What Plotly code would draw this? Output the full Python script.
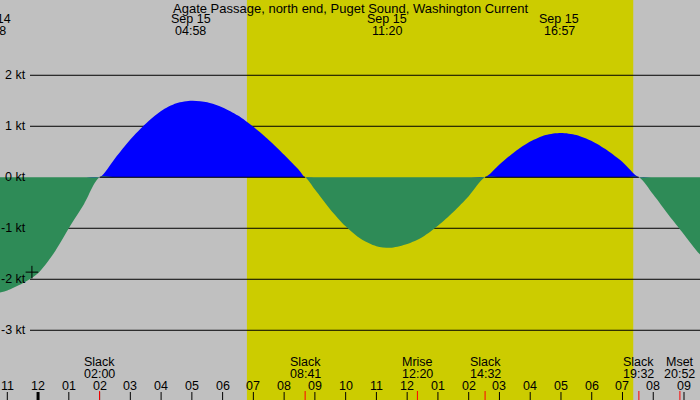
import plotly.graph_objects as go

# current speed (kt), hours from midnight Sep 15
hours = [-1.5, -1.0, -0.5, 0.0, 0.5, 1.0, 1.5, 2.0,
         2.5, 3.0, 3.5, 4.0, 4.5, 5.0, 5.5, 6.0, 6.5, 7.0, 7.5, 8.0, 8.5, 8.683,
         9.0, 9.5, 10.0, 10.5, 11.0, 11.5, 12.0, 12.5, 13.0, 13.5, 14.0, 14.533,
         15.0, 15.5, 16.0, 16.5, 17.0, 17.5, 18.0, 18.5, 19.0, 19.533,
         20.0, 20.5, 21.0, 21.5, 21.75]
knots = [-2.30, -2.22, -2.08, -1.88, -1.50, -1.00, -0.52, 0.0,
         0.37, 0.74, 1.05, 1.30, 1.45, 1.50, 1.47, 1.37, 1.21, 0.99, 0.73, 0.44, 0.13, 0.0,
         -0.24, -0.63, -0.96, -1.21, -1.35, -1.38, -1.31, -1.17, -0.95, -0.68, -0.37, 0.0,
         0.25, 0.50, 0.70, 0.83, 0.87, 0.83, 0.71, 0.53, 0.30, 0.0,
         -0.34, -0.74, -1.12, -1.50, -1.62]

hour_ticks = list(range(-1, 22))
hour_labels = ["11", "12", "01", "02", "03", "04", "05", "06", "07", "08", "09", "10",
               "11", "12", "01", "02", "03", "04", "05", "06", "07", "08", "09"]

kt_levels = [2, 1, 0, -1, -2, -3]
kt_labels = ["2 kt", "1 kt", "0 kt", "-1 kt", "-2 kt", "-3 kt"]

peak_hours = [-1.533, 4.967, 11.333, 16.95]
peak_dates = ["Sep 14", "Sep 15", "Sep 15", "Sep 15"]
peak_times = ["22:28", "04:58", "11:20", "16:57"]

event_hours = [2.0, 8.683, 12.333, 14.533, 19.533, 20.867]
event_names = ["Slack", "Slack", "Mrise", "Slack", "Slack", "Mset"]
event_times = ["02:00", "08:41", "12:20", "14:32", "19:32", "20:52"]

sunrise, sunset = 6.79, 19.35
title = "Agate Passage, north end, Puget Sound, Washington Current"

x0, x1 = -1.2373, 21.52
y0, y1 = -4.367, 3.476
FONT = "Liberation Sans"
W, H = 700, 400

pos = [max(v, 0) for v in knots]
neg = [min(v, 0) for v in knots]
zero_y = [0 if v >= 0 else None for v in knots]

fig = go.Figure()
fig.add_trace(go.Scatter(x=hours, y=pos, mode="lines", fill="tozeroy",
                         fillcolor="#0000ff", line=dict(width=0, shape="spline", smoothing=0.8)))
fig.add_trace(go.Scatter(x=hours, y=neg, mode="lines", fill="tozeroy",
                         fillcolor="#2e8b57", line=dict(width=0, shape="spline", smoothing=0.8)))
fig.add_trace(go.Scatter(x=hours, y=zero_y, mode="lines", line=dict(color="black", width=1)))
fig.add_trace(go.Scatter(x=[-0.2], y=[-1.86], mode="markers",
                         marker=dict(symbol="cross-thin", size=9, line=dict(color="black", width=1))))

shapes = [dict(type="rect", xref="x", yref="paper", x0=sunrise, x1=sunset, y0=0, y1=1,
               fillcolor="#cccc00", line_width=0, layer="below")]
for v in kt_levels:
    if v != 0:
        shapes.append(dict(type="line", xref="paper", yref="y", x0=30 / W, x1=1, y0=v, y1=v,
                           line=dict(color="black", width=1), layer="below"))
for h in hour_ticks:
    shapes.append(dict(type="line", xref="x", yref="paper", x0=h, x1=h, y0=0, y1=8 / H,
                       line=dict(color="black", width=3 if h == 0 else 1)))
for h in event_hours:
    shapes.append(dict(type="line", xref="x", yref="paper", x0=h, x1=h, y0=0, y1=9 / H,
                       line=dict(color="red", width=1)))

ann = []
def txt(x, y, s, xref="x", xanchor="center", size=12.5):
    ann.append(dict(x=x, y=y, xref=xref, yref="paper", text=s, showarrow=False,
                    xanchor=xanchor, yanchor="middle", font=dict(family=FONT, size=size, color="black")))

txt(0.5, 1 - 8 / H, title, xref="paper", size=13)
for h, d, t in zip(peak_hours, peak_dates, peak_times):
    px = (h - x0) / (x1 - x0)
    txt(px, 1 - 19 / H, d, xref="paper")
    txt(px, 1 - 31.5 / H, t, xref="paper")
for h, n, t in zip(event_hours, event_names, event_times):
    txt(h, 1 - 361.5 / H, n)
    txt(h, 1 - 374 / H, t)
for h, s in zip(hour_ticks, hour_labels):
    txt(h, 1 - 385.5 / H, s)
for v, s in zip(kt_levels, kt_labels):
    ann.append(dict(x=28 / W, y=v, xref="paper", yref="y", text=s, showarrow=False,
                    xanchor="right", yanchor="middle", font=dict(family=FONT, size=12.5, color="black")))

fig.update_layout(width=W, height=H, margin=dict(l=0, r=0, t=0, b=0),
                  plot_bgcolor="#c0c0c0", paper_bgcolor="#c0c0c0", showlegend=False,
                  shapes=shapes, annotations=ann,
                  xaxis=dict(range=[x0, x1], visible=False, fixedrange=True),
                  yaxis=dict(range=[y0, y1], visible=False, fixedrange=True))
fig.write_html("out.html", config={"displayModeBar": False},
               post_script="document.body.style.margin='0';document.body.style.overflow='hidden';")
